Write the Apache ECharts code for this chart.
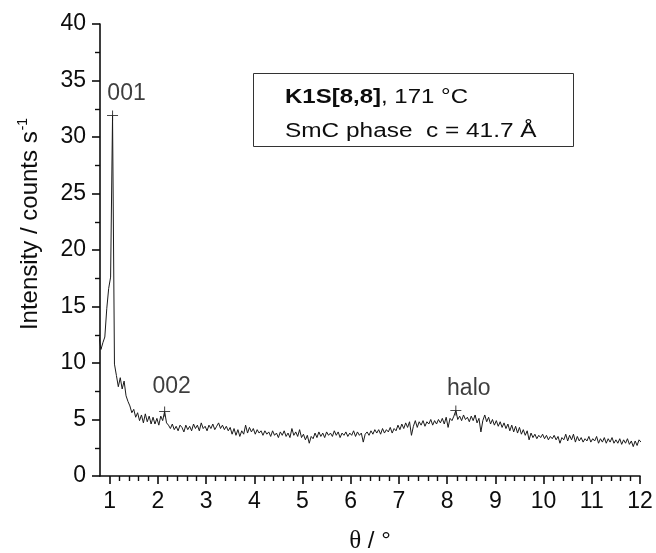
<!DOCTYPE html>
<html>
<head>
<meta charset="utf-8">
<script src="https://cdn.jsdelivr.net/npm/echarts@6/dist/echarts.min.js"></script>
<style>
  html, body { margin: 0; padding: 0; background: #fff; }
  #chart { width: 656px; height: 553px; }
</style>
</head>
<body>
<div id="chart"></div>
<script>
// ---- data ----
const theta0 = 0.78;      // first sampled angle (deg)
const thetaStep = 0.04;   // sampling step (deg)
const intensity = [
  12.3, 11.2, 11.8, 12.3, 14.8, 16.6, 17.6, 31.9, 9.9, 8.9,
  7.9, 8.7, 7.7, 8.4, 7.1, 6.6, 6.2, 5.6, 5.9, 5.2,
  5.6, 4.9, 5.4, 4.7, 5.5, 4.8, 5.3, 4.6, 5.2, 4.6,
  5.1, 4.5, 5.3, 4.9, 5.7, 4.7, 4.5, 4.2, 4.6, 4.1,
  4.4, 4.0, 4.5, 4.3, 3.9, 4.5, 4.1, 4.4, 4.0, 4.6,
  4.2, 4.5, 4.0, 4.7, 4.2, 4.4, 4.0, 4.5, 4.2, 4.6,
  4.1, 4.4, 4.7, 4.2, 4.5, 4.1, 4.4, 4.0, 4.3, 3.7,
  4.2, 3.6, 4.1, 3.5, 4.0, 3.7, 4.5, 3.8, 4.3, 3.9,
  4.2, 3.7, 4.1, 3.8, 4.0, 3.6, 4.0, 3.7, 3.9, 3.5,
  4.0, 3.6, 3.8, 3.4, 3.9, 3.6, 4.0, 3.5, 3.8, 3.4,
  4.2, 3.6, 3.9, 3.5, 4.1, 3.4, 3.7, 3.2, 3.6, 2.9,
  3.5, 3.3, 3.8, 3.4, 3.9, 3.5, 3.8, 3.4, 3.9, 3.6,
  3.8, 3.5, 4.0, 3.6, 3.9, 3.4, 3.8, 3.6, 3.9, 3.5,
  3.8, 3.6, 4.0, 3.5, 3.9, 3.6, 3.8, 3.0, 3.7, 3.9,
  3.6, 4.0, 3.7, 4.1, 3.8, 4.1, 3.7, 4.2, 3.8, 4.1,
  3.9, 4.3, 3.8, 4.2, 4.0, 4.5, 4.1, 4.6, 4.2, 4.7,
  4.3, 4.8, 3.6, 4.4, 4.9, 4.3, 4.8, 4.5, 4.9, 4.4,
  4.8, 4.6, 5.0, 4.5, 4.9, 4.6, 5.0, 4.7, 5.1, 4.6,
  5.2, 4.3, 5.1, 4.9, 5.3, 5.8, 5.0, 5.3, 4.9, 5.4,
  5.0, 5.2, 4.8, 5.3, 4.9, 5.4, 4.7, 5.1, 3.9, 4.9,
  5.4, 4.8, 5.2, 4.6, 5.0, 4.5, 4.9, 4.4, 4.8, 4.3,
  4.7, 4.2, 4.6, 4.0, 4.5, 3.9, 4.4, 3.8, 4.3, 3.7,
  4.1, 3.6, 4.0, 3.2, 3.8, 3.4, 3.7, 3.3, 3.6, 3.4,
  3.7, 3.3, 3.6, 3.2, 3.5, 3.3, 3.6, 3.2, 3.5, 2.9,
  3.4, 3.2, 3.7, 3.1, 3.6, 3.2, 3.7, 3.0, 3.5, 3.1,
  3.4, 3.0, 3.3, 3.1, 3.5, 3.0, 3.3, 3.1, 3.5, 2.9,
  3.3, 3.0, 3.4, 2.9, 3.3, 3.0, 3.4, 2.9, 3.2, 2.9,
  3.3, 2.8, 3.2, 2.9, 3.3, 2.8, 3.1, 2.6, 3.1, 2.7,
  3.2, 3.0
];
const peakTheta = [1.06, 2.14, 8.18];
const peakIntensity = [31.9, 5.7, 5.8];
const peakLabels = ['001', '002', 'halo'];
const xTickLabels = [1, 2, 3, 4, 5, 6, 7, 8, 9, 10, 11, 12];
const yTickLabels = [0, 5, 10, 15, 20, 25, 30, 35, 40];
const boxLine1Bold = 'K1S[8,8]';
const boxLine1Rest = ', 171 °C';
const boxLine2 = 'SmC phase  c = 41.7 Å';

// ---- build ----
const FONT = 'Liberation Sans, Arial, sans-serif';
const INK = '#0d0d0d';
const lineData = intensity.map((v, i) => [+(theta0 + i * thetaStep).toFixed(2), v]);
const labelOffsets = [[14, 3], [7, 0], [13, 3]];
const peakData = peakTheta.map((t, i) => ({
  value: [t, peakIntensity[i]],
  label: { formatter: peakLabels[i], offset: labelOffsets[i] }
}));
// minor x ticks: 5 subdivisions between labelled ticks
const xMinor = [];
for (let i = 0; i < xTickLabels.length - 1; i++) {
  const a = xTickLabels[i], b = xTickLabels[i + 1];
  for (let j = 1; j < 5; j++) xMinor.push(+(a + (b - a) * j / 5).toFixed(2));
}
const xMin = 0.8, xMax = 12;

const chart = echarts.init(document.getElementById('chart'), null, { renderer: 'canvas' });
chart.setOption({
  backgroundColor: '#fff',
  animation: false,
  grid: { left: 100, right: 16, top: 24, bottom: 77, containLabel: false, outerBoundsMode: 'none' },
  xAxis: [
    {
      type: 'value', min: xMin, max: xMax, position: 'bottom',
      name: '{t|θ} / °', nameLocation: 'middle', nameGap: 53,
      nameTextStyle: {
        fontFamily: FONT, fontSize: 24, color: INK,
        rich: { t: { fontFamily: 'Liberation Serif, DejaVu Serif, serif', fontSize: 25, color: INK } }
      },
      axisLine: { show: true, onZero: false, lineStyle: { color: INK, width: 1.6 } },
      axisTick: { show: true, inside: false, length: 8, lineStyle: { color: INK, width: 1.6 }, customValues: xTickLabels },
      axisLabel: { show: true, margin: 14, fontFamily: FONT, fontSize: 23, color: INK, customValues: xTickLabels },
      splitLine: { show: false }
    },
    {
      type: 'value', min: xMin, max: xMax, position: 'bottom',
      axisLine: { show: false },
      axisTick: { show: true, inside: false, length: 5, lineStyle: { color: INK, width: 1.4 }, customValues: xMinor },
      axisLabel: { show: false },
      splitLine: { show: false }
    }
  ],
  yAxis: {
    type: 'value', min: 0, max: 40, interval: 5,
    name: '{a|Intensity / counts s}{s|-1}', nameLocation: 'middle', nameGap: 56, nameRotate: 90,
    nameTextStyle: {
      fontFamily: FONT, fontSize: 24, color: INK, padding: [0, 0, 0, 52],
      rich: {
        a: { fontFamily: FONT, fontSize: 24, color: INK },
        s: { fontFamily: FONT, fontSize: 14, color: INK, padding: [0, 0, 14, 1] }
      }
    },
    axisLine: { show: true, onZero: false, lineStyle: { color: INK, width: 1.6 } },
    axisTick: { show: true, inside: false, length: 8, lineStyle: { color: INK, width: 1.6 } },
    minorTick: { show: true, splitNumber: 2, length: 5, lineStyle: { color: INK, width: 1.4 } },
    axisLabel: {
      margin: 14, fontFamily: FONT, fontSize: 23, color: INK,
      formatter: v => (yTickLabels.indexOf(v) >= 0 ? String(v) : '')
    },
    splitLine: { show: false }
  },
  series: [
    {
      type: 'line', data: lineData, xAxisIndex: 0, showSymbol: false, symbol: 'none',
      clip: true, lineStyle: { color: '#1a1a1a', width: 1 }, z: 2
    },
    {
      type: 'scatter', data: peakData, xAxisIndex: 0,
      symbol: 'path://M0,5 L10,5 M5,0 L5,10', symbolSize: [11, 10],
      itemStyle: { color: 'none', borderColor: '#1a1a1a', borderWidth: 1 },
      label: { show: true, position: 'top', distance: 6, fontFamily: FONT, fontSize: 23, color: INK },
      z: 3
    }
  ],
  graphic: [
    {
      type: 'rect', left: 253, top: 73,
      shape: { width: 320, height: 73 },
      style: { fill: '#fff', stroke: '#333', lineWidth: 1 }, z: 10
    },
    {
      type: 'text', x: 285, y: 87, scaleX: 1.2, z: 11,
      style: {
        text: '{b|' + boxLine1Bold + '}' + boxLine1Rest,
        font: '20px ' + FONT, fill: INK,
        rich: { b: { fontWeight: 'bold', fontFamily: FONT, fontSize: 20, fill: INK, color: INK } }
      }
    },
    {
      type: 'text', x: 285, y: 121, scaleX: 1.22, z: 11,
      style: { text: boxLine2, font: '20px ' + FONT, fill: INK }
    }
  ]
});
</script>
</body>
</html>
